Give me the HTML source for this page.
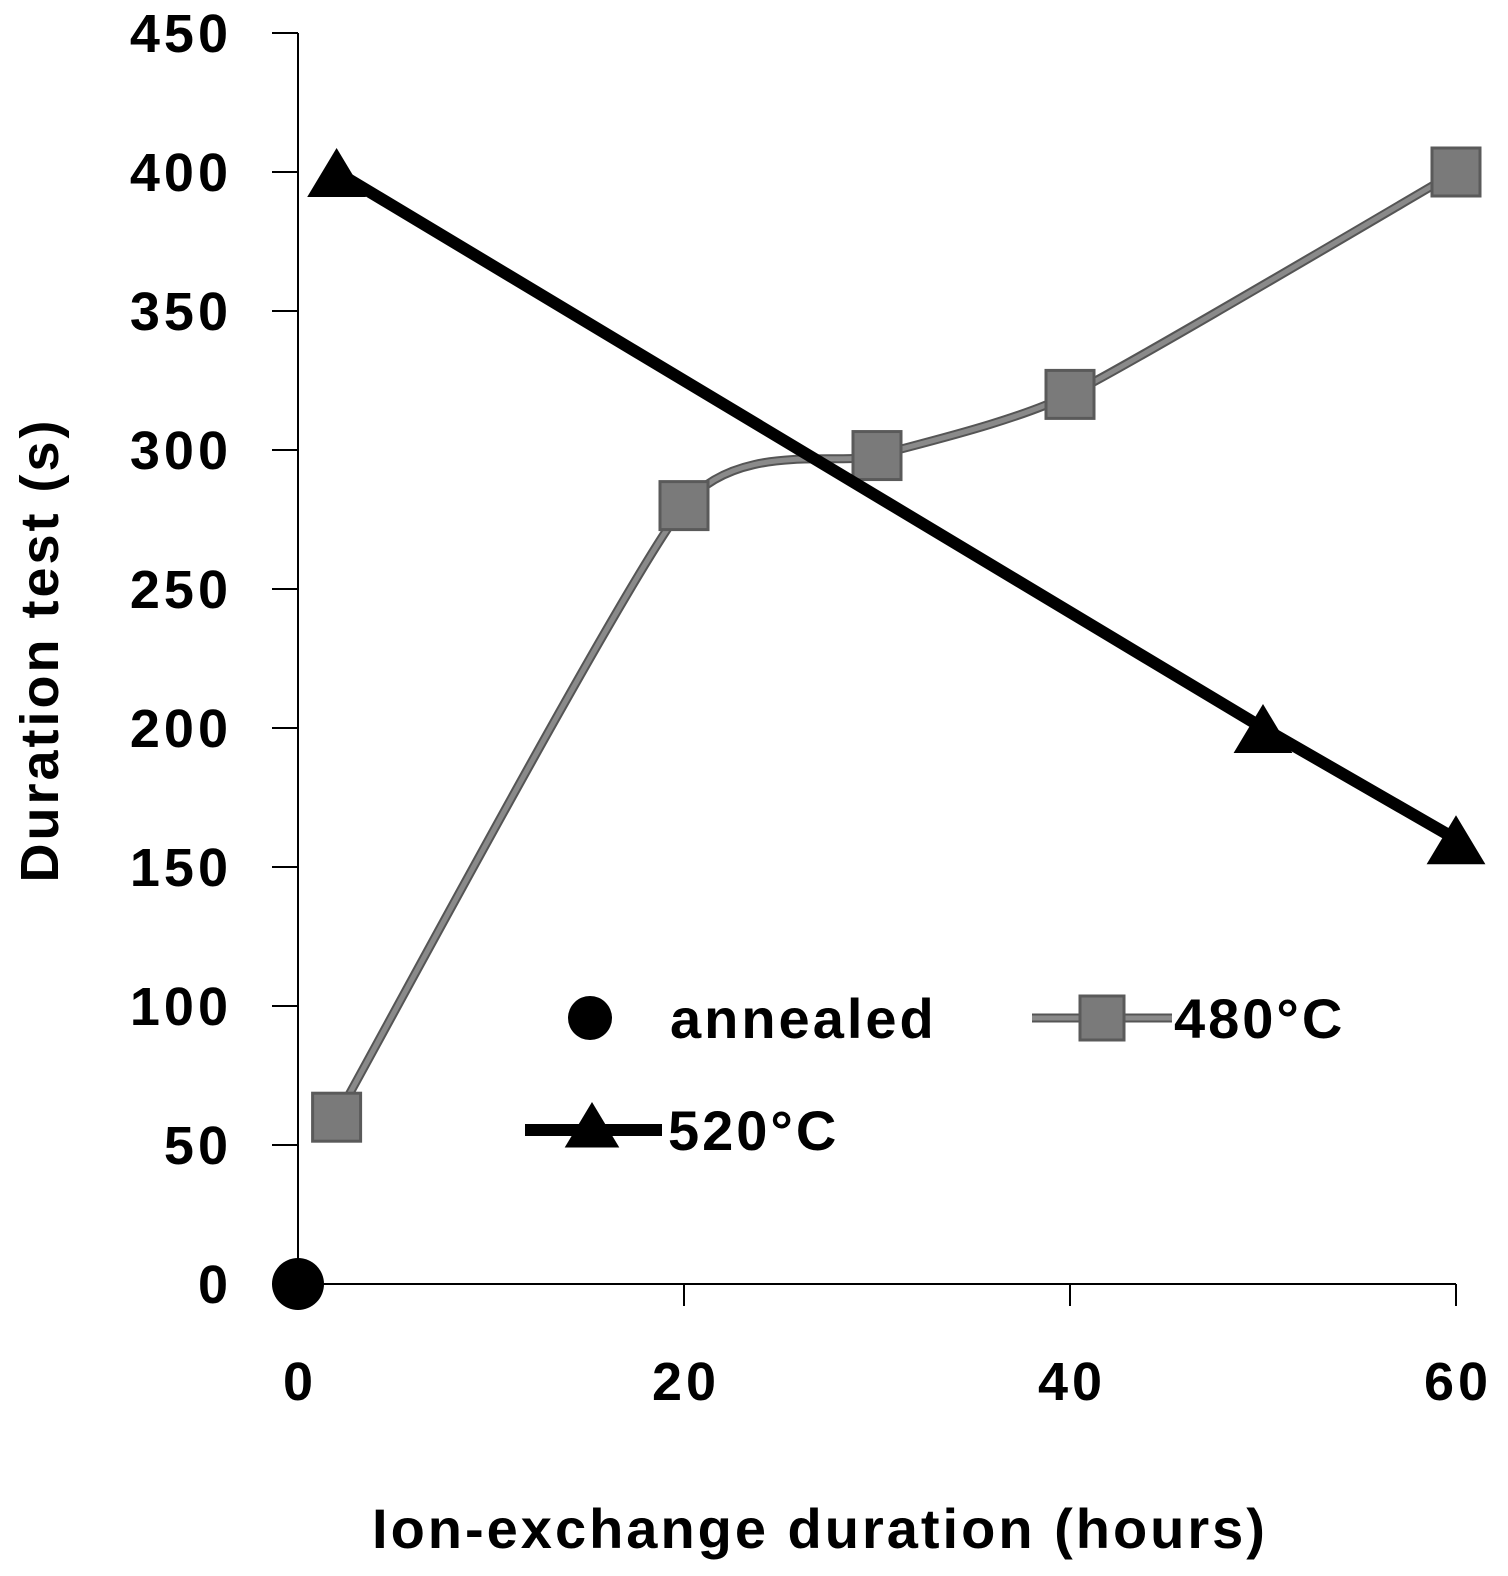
<!DOCTYPE html>
<html><head><meta charset="utf-8"><style>
html,body{margin:0;padding:0;background:#fff;}
svg{display:block;}
text{font-family:"Liberation Sans",sans-serif;font-weight:bold;fill:#000;}
</style></head><body>
<svg id="chart" width="1508" height="1576" xmlns="http://www.w3.org/2000/svg"></svg>
<script>
const xTicks=[0,20,40,60];
const yTicks=[0,50,100,150,200,250,300,350,400,450];
const s480x=[2,20,30,40,60];
const s480y=[60,280,298,320,400];
const s520x=[2,50,60];
const s520y=[400,200,160];
const annX=[0];
const annY=[0];

const X0=298,X1=1456,Y0=1284,Y1=33;
const xs=v=>X0+(v-0)/(60-0)*(X1-X0);
const ys=v=>Y0-(v-0)/(450-0)*(Y0-Y1);
const svg=document.getElementById('chart');
const NS='http://www.w3.org/2000/svg';
function mk(tag,attrs,parent){const e=document.createElementNS(NS,tag);for(const k in attrs)e.setAttribute(k,attrs[k]);(parent||svg).appendChild(e);return e;}

let e=mk('line',{x1:X0,y1:Y1,x2:X0,y2:Y0,stroke:'#000','stroke-width':2});


e=mk('line',{x1:X0,y1:Y0,x2:X1,y2:Y0,stroke:'#000','stroke-width':2});



yTicks.forEach(v=>{
  let t=mk('line',{x1:272,y1:ys(v),x2:X0,y2:ys(v),stroke:'#000','stroke-width':2});
  
  
  let l=mk('text',{x:232,y:ys(v)+19,'text-anchor':'end','font-size':54,'letter-spacing':4});
  l.textContent=v;
  
  
});
xTicks.forEach(v=>{
  let t=mk('line',{x1:xs(v),y1:Y0,x2:xs(v),y2:Y0+22,stroke:'#000','stroke-width':2});
  
  
  let l=mk('text',{x:xs(v)+2,y:1400,'text-anchor':'middle','font-size':54,'letter-spacing':4});
  l.textContent=v;
  
  
});

let xt=mk('text',{x:820,y:1548,'text-anchor':'middle','font-size':56,'letter-spacing':3});
xt.textContent='Ion-exchange duration (hours)';


let yt=mk('text',{x:0,y:0,'text-anchor':'middle','font-size':54,'letter-spacing':3,transform:'translate(58,650) rotate(-90)'});
yt.textContent='Duration test  (s)';



function smooth(px,py){
  let d='M'+px[0]+','+py[0];
  for(let i=0;i<px.length-1;i++){
    const p0=[px[Math.max(i-1,0)],py[Math.max(i-1,0)]],p1=[px[i],py[i]],p2=[px[i+1],py[i+1]],p3=[px[Math.min(i+2,px.length-1)],py[Math.min(i+2,px.length-1)]];
    const t=0.1;
    d+=' C'+(p1[0]+(p2[0]-p0[0])*t)+','+(p1[1]+(p2[1]-p0[1])*t)+' '+(p2[0]-(p3[0]-p1[0])*t)+','+(p2[1]-(p3[1]-p1[1])*t)+' '+p2[0]+','+p2[1];
  }
  return d;
}
const p480x=s480x.map(xs),p480y=s480y.map(ys);
let l480o=mk('path',{d:smooth(p480x,p480y),fill:'none',stroke:'#555','stroke-width':9});


let l480=mk('path',{d:smooth(p480x,p480y),fill:'none',stroke:'#8a8a8a','stroke-width':5});


s480x.forEach((v,i)=>{
  let r=mk('rect',{x:xs(v)-24,y:ys(s480y[i])-24,width:48,height:48,fill:'#7a7a7a',stroke:'#5a5a5a','stroke-width':3});
  
  
});

let l520=mk('polyline',{points:s520x.map((v,i)=>xs(v)+','+ys(s520y[i])).join(' '),fill:'none',stroke:'#000','stroke-width':12});


function tri(cx,cy,s){return (cx)+','+(cy-s)+' '+(cx+s*1.05)+','+(cy+s*0.75)+' '+(cx-s*1.05)+','+(cy+s*0.75);}
s520x.forEach((v,i)=>{
  let t=mk('polygon',{points:tri(xs(v),ys(s520y[i])+4,28),fill:'#000'});
  
  
});

annX.forEach((v,i)=>{
  let c=mk('circle',{cx:xs(v),cy:ys(annY[i]),r:26,fill:'#000'});
  
  
});

const lg=mk('g',{});


let c=mk('circle',{cx:590,cy:1018,r:22,fill:'#000'},lg);


let t1=mk('text',{x:670,y:1038,'font-size':56,'letter-spacing':3},lg);t1.textContent='annealed';


let ll=mk('line',{x1:1032,y1:1018,x2:1172,y2:1018,stroke:'#555','stroke-width':9},lg);


ll=mk('line',{x1:1032,y1:1018,x2:1172,y2:1018,stroke:'#8a8a8a','stroke-width':5},lg);


let sq=mk('rect',{x:1080,y:996,width:44,height:44,fill:'#7a7a7a',stroke:'#5a5a5a','stroke-width':3},lg);


let t2=mk('text',{x:1174,y:1038,'font-size':56,'letter-spacing':3},lg);t2.textContent='480°C';


ll=mk('line',{x1:525,y1:1130,x2:662,y2:1130,stroke:'#000','stroke-width':12},lg);


let tr=mk('polygon',{points:tri(592,1128,26),fill:'#000'},lg);


let t3=mk('text',{x:668,y:1150,'font-size':56,'letter-spacing':3},lg);t3.textContent='520°C';


</script>
</body></html>
